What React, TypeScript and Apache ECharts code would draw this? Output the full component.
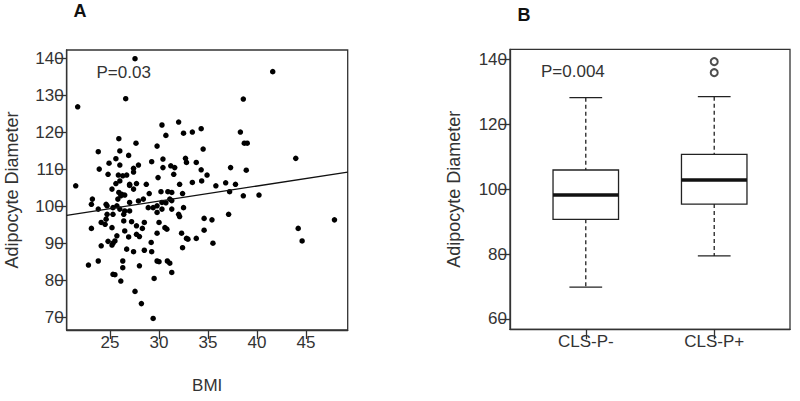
import React, { useEffect, useRef } from 'react';
import * as echarts from 'echarts';

// Panel A: BMI vs adipocyte diameter
const scatterPoints: [number, number][] = [
  [27.55, 139.9], [21.7, 126.9], [26.6, 129.1], [41.6, 136.4], [38.6, 129.0], [32.0, 122.8],
  [30.3, 122.0], [30.7, 119.2], [32.5, 119.8], [33.4, 120.1], [34.3, 121.0], [38.3, 120.1],
  [25.9, 118.3], [27.65, 117.1], [34.5, 115.5], [38.7, 117.1], [39.0, 117.1], [29.8, 116.3],
  [23.8, 114.8], [26.0, 115.0], [26.9, 113.8], [23.9, 110.1], [24.9, 111.7], [25.6, 112.9],
  [26.0, 111.2], [24.8, 108.7], [25.85, 108.5], [26.3, 108.3], [26.7, 108.5], [27.4, 110.3],
  [27.4, 109.3], [27.9, 111.2], [29.25, 112.1], [30.4, 112.8], [30.4, 110.5], [31.2, 111.0],
  [31.6, 110.5], [32.7, 113.0], [32.8, 111.9], [33.8, 111.9], [34.3, 109.9], [34.9, 108.5],
  [29.9, 107.8], [31.5, 108.7], [37.3, 110.5], [38.9, 109.8], [43.95, 113.0], [35.8, 105.6],
  [36.8, 106.4], [37.8, 106.0], [37.2, 104.0], [40.2, 103.1], [38.6, 102.9], [32.1, 106.0],
  [33.4, 106.5], [34.35, 106.9], [21.5, 105.6], [25.2, 104.7], [25.9, 103.8], [26.2, 103.3],
  [26.5, 103.1], [27.4, 104.7], [29.0, 103.5], [30.2, 104.0], [30.9, 104.0], [32.4, 103.5],
  [27.0, 106.0], [27.7, 106.2], [28.7, 106.0], [26.0, 106.9], [25.6, 106.2], [27.0, 105.7],
  [27.0, 101.1], [27.9, 101.5], [28.4, 102.0], [30.3, 101.1], [30.7, 101.0], [31.1, 102.0],
  [31.3, 101.6], [37.1, 97.9], [23.2, 102.0], [23.1, 100.6], [23.8, 99.3], [24.6, 100.6],
  [25.7, 100.2], [26.5, 98.8], [26.4, 97.9], [25.3, 97.9], [24.7, 97.9], [24.6, 96.6],
  [24.1, 95.7], [24.5, 95.2], [25.2, 94.3], [23.1, 94.1], [26.4, 96.1], [27.2, 95.9],
  [27.7, 94.8], [28.5, 95.7], [28.3, 94.1], [27.7, 92.5], [26.9, 91.8], [28.0, 91.9],
  [26.5, 93.4], [25.7, 92.1], [24.8, 90.6], [25.3, 90.1], [25.5, 90.7], [25.2, 89.6],
  [24.1, 89.4], [26.7, 88.5], [27.4, 87.8], [28.5, 88.2], [29.25, 87.8], [29.2, 90.3],
  [29.8, 98.4], [29.4, 99.7], [30.0, 95.7], [30.6, 94.3], [29.8, 92.8], [30.8, 93.9],
  [31.3, 99.3], [32.0, 97.9], [32.1, 97.3], [32.5, 99.7], [32.3, 92.8], [32.4, 88.9],
  [32.8, 91.4], [32.95, 91.2], [33.8, 91.4], [34.6, 93.6], [34.6, 96.8], [35.4, 96.4],
  [35.5, 90.1], [22.8, 84.2], [23.8, 85.3], [25.3, 81.7], [25.5, 81.6], [26.3, 85.3],
  [26.3, 83.5], [26.1, 79.9], [28.0, 84.0], [27.55, 77.1], [28.2, 73.8], [29.4, 69.8],
  [29.5, 80.6], [29.8, 85.3], [30.0, 85.1], [30.85, 85.3], [31.1, 84.7], [31.3, 82.2],
  [44.2, 94.1], [44.6, 90.7], [47.9, 96.4], [26.1, 102.9], [25.8, 102.0], [24.7, 100.2],
  [25.3, 99.7], [26.0, 99.3], [27.0, 98.8], [28.9, 99.7], [29.8, 100.2], [30.3, 99.3],
  [31.3, 103.8],
];
const fitLine: [number, number][] = [[20.58, 97.6], [49.25, 109.3]];
const bmiTicks = [25, 30, 35, 40, 45];
const diamTicksA = [70, 80, 90, 100, 110, 120, 130, 140];

// Panel B: box plots
const groups = ['CLS-P-', 'CLS-P+'];
const boxStats = [
  [69.8, 90.7, 98.2, 105.9, 128.2],
  [79.4, 95.4, 102.8, 110.7, 128.5],
];
const outliers: [number, number][] = [[1, 135.9], [1, 139.3]]; // [group index, value]
const diamTicksB = [60, 80, 100, 120, 140];
const groupTicks = [1, 2];

const FONT = '"Liberation Sans", Arial, Helvetica, sans-serif';
const INK = '#333';
const BOX_W = 0.51;

export default function App() {
  const ref = useRef<HTMLDivElement>(null);
  useEffect(() => {
    if (!ref.current) return;
    const chart = echarts.init(ref.current, undefined, { renderer: 'svg' });
    const axisLine = { show: true, onZero: false, lineStyle: { color: INK, width: 1.3 } };
    const label = { color: INK, fontSize: 17, fontFamily: FONT };
    const nameStyle = { color: INK, fontSize: 18, fontFamily: FONT };
    const boxData = boxStats.map((s, i) => [i + 1, ...s]);
    const option: any = {
      animation: false,
      backgroundColor: '#fff',
      grid: [
        { left: 66.7, top: 50, width: 281, height: 280, show: true, borderColor: INK, borderWidth: 1.3, backgroundColor: 'transparent' },
        { left: 510, top: 49.3, width: 280, height: 280, show: true, borderColor: INK, borderWidth: 1.3, backgroundColor: 'transparent' },
      ],
      xAxis: [
        {
          type: 'value', gridIndex: 0, min: 20.58, max: 49.25,
          name: 'BMI', nameLocation: 'middle', nameGap: 47,
          nameTextStyle: { ...nameStyle, fontSize: 17 },
          axisLine,
          axisTick: { show: true, length: 9, customValues: bmiTicks, lineStyle: { color: INK, width: 1.3 } },
          axisLabel: { ...label, margin: 4, customValues: bmiTicks },
          splitLine: { show: false },
        },
        {
          type: 'value', gridIndex: 1, min: 0.41, max: 2.59,
          axisLine,
          axisTick: { show: true, length: 10, customValues: groupTicks, lineStyle: { color: INK, width: 1.3 } },
          axisLabel: {
            ...label, margin: 4, customValues: groupTicks,
            formatter: (v: number) => groups[Math.round(v) - 1] ?? '',
          },
          splitLine: { show: false },
        },
      ],
      yAxis: [
        {
          type: 'value', gridIndex: 0, min: 66.68, max: 142.24,
          name: 'Adipocyte Diameter', nameLocation: 'middle', nameGap: 46, nameRotate: 90,
          nameTextStyle: nameStyle,
          axisLine,
          axisTick: { show: true, length: 11, customValues: diamTicksA, lineStyle: { color: INK, width: 1.3 } },
          axisLabel: { ...label, margin: 3, customValues: diamTicksA },
          splitLine: { show: false },
        },
        {
          type: 'value', gridIndex: 1, min: 56.8, max: 143.1,
          name: 'Adipocyte Diameter', nameLocation: 'middle', nameGap: 47, nameRotate: 90,
          nameTextStyle: nameStyle,
          axisLine,
          axisTick: { show: true, length: 10, customValues: diamTicksB, lineStyle: { color: INK, width: 1.3 } },
          axisLabel: { ...label, margin: 3, customValues: diamTicksB },
          splitLine: { show: false },
        },
      ],
      series: [
        {
          type: 'scatter', xAxisIndex: 0, yAxisIndex: 0, data: scatterPoints,
          symbol: 'circle', symbolSize: 5.5, itemStyle: { color: '#000', opacity: 1 }, silent: true,
        },
        {
          type: 'line', xAxisIndex: 0, yAxisIndex: 0, data: fitLine, symbol: 'none',
          lineStyle: { color: '#111', width: 1.3 }, silent: true,
        },
        {
          type: 'custom', xAxisIndex: 1, yAxisIndex: 1, data: boxData,
          encode: { x: 0, y: [1, 2, 3, 4, 5] },
          renderItem: (_params: any, api: any) => {
            const x = api.value(0);
            const cx = api.coord([x, api.value(1)])[0];
            const yLo = api.coord([x, api.value(1)])[1];
            const yQ1 = api.coord([x, api.value(2)])[1];
            const yMed = api.coord([x, api.value(3)])[1];
            const yQ3 = api.coord([x, api.value(4)])[1];
            const yHi = api.coord([x, api.value(5)])[1];
            const w = api.size([BOX_W, 0])[0];
            const solid = { stroke: '#222', lineWidth: 1.3, fill: 'none' };
            const dashed = { ...solid, lineDash: [4, 3] };
            return {
              type: 'group',
              children: [
                { type: 'line', shape: { x1: cx, y1: yHi, x2: cx, y2: yQ3 }, style: dashed },
                { type: 'line', shape: { x1: cx, y1: yQ1, x2: cx, y2: yLo }, style: dashed },
                { type: 'line', shape: { x1: cx - w / 4, y1: yHi, x2: cx + w / 4, y2: yHi }, style: solid },
                { type: 'line', shape: { x1: cx - w / 4, y1: yLo, x2: cx + w / 4, y2: yLo }, style: solid },
                { type: 'rect', shape: { x: cx - w / 2, y: yQ3, width: w, height: yQ1 - yQ3 }, style: { fill: '#fff', stroke: '#222', lineWidth: 1.3 } },
                { type: 'line', shape: { x1: cx - w / 2, y1: yMed, x2: cx + w / 2, y2: yMed }, style: { stroke: '#111', lineWidth: 3.5 } },
              ],
            };
          },
          silent: true,
        },
        {
          type: 'scatter', xAxisIndex: 1, yAxisIndex: 1,
          data: outliers.map(([g, v]) => [g + 1, v]),
          symbol: 'emptyCircle', symbolSize: 7,
          itemStyle: { color: '#222', borderWidth: 1.2 }, silent: true,
        },
      ],
      graphic: [
        { type: 'text', x: 80, y: 10.5, style: { text: 'A', font: `bold 18px ${FONT}`, fill: '#111', align: 'center', verticalAlign: 'middle', textAlign: 'center', textVerticalAlign: 'middle' } },
        { type: 'text', x: 524, y: 15, style: { text: 'B', font: `bold 18px ${FONT}`, fill: '#111', align: 'center', verticalAlign: 'middle', textAlign: 'center', textVerticalAlign: 'middle' } },
        { type: 'text', x: 96.5, y: 72.3, style: { text: 'P=0.03', font: `17px ${FONT}`, fill: INK, align: 'left', verticalAlign: 'middle', textAlign: 'left', textVerticalAlign: 'middle' } },
        { type: 'text', x: 541, y: 71.7, style: { text: 'P=0.004', font: `17px ${FONT}`, fill: INK, align: 'left', verticalAlign: 'middle', textAlign: 'left', textVerticalAlign: 'middle' } },
      ],
    };
    chart.setOption(option);
    return () => chart.dispose();
  }, []);
  return (
    <div
      ref={ref}
      style={{ position: 'absolute', left: 0, top: 0, width: 800, height: 401, background: '#fff' }}
    />
  );
}
